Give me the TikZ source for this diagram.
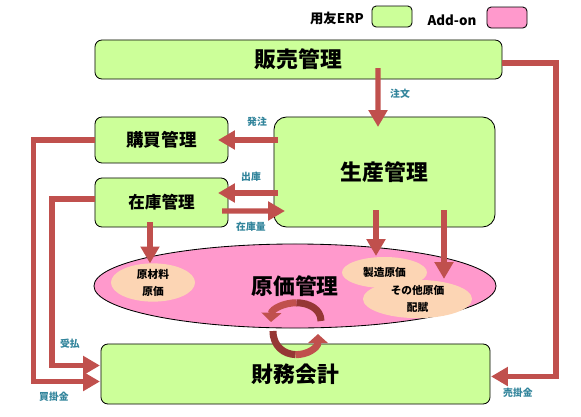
\documentclass[tikz,border=0pt]{standalone}
\usepackage{fontspec}
\setmainfont{Noto Sans CJK JP}
\usepackage{xcolor}
\usetikzlibrary{arrows.meta,shapes.geometric}
\definecolor{erpgreen}{HTML}{CCFF99}
\definecolor{addonpink}{HTML}{FF99CC}
\definecolor{costpeach}{HTML}{FCD5B4}
\definecolor{linkred}{HTML}{C0504D}
\definecolor{linkdark}{HTML}{953735}
\definecolor{labelteal}{HTML}{31849B}
\tikzset{
  gmbox/.style={draw=black, line width=0.6pt, fill=erpgreen, rounded corners=5pt, inner sep=0pt, outer sep=0pt},
  gmtitle/.style={font=\fontsize{15.5}{18}\selectfont\bfseries},
  gmsub/.style={font=\fontsize{12.5}{15}\selectfont\bfseries},
  gmbig/.style={ellipse, draw=black, line width=0.6pt, fill=addonpink, inner sep=0pt, outer sep=0pt},
  gmcost/.style={ellipse, fill=costpeach, inner sep=0pt, outer sep=0pt, align=center, font=\fontsize{7.6}{12}\selectfont\bfseries},
  gmconn/.style={line width=3.8pt, draw=linkred, line join=miter, -{Triangle[width=13pt,length=12pt]}},
  gmlink/.style={line width=3.8pt, draw=linkred, line join=miter},
  gmlabel/.style={text=labelteal, inner sep=0pt, font=\fontsize{7}{8}\selectfont\bfseries},
  gmlegend/.style={inner sep=0pt, font=\fontsize{9.5}{11}\selectfont\bfseries},
  gmswatch/.style={draw=black, line width=0.6pt, rounded corners=3pt, minimum width=1cm, minimum height=0.525cm, inner sep=0pt},
  gmcycle/.style={line width=5pt, line cap=butt},
}

\begin{document}
\begin{tikzpicture}[x=0.025cm, y=-0.025cm]
\useasboundingbox (0,0) rectangle (581,416);
\node[gmlegend] (lgerp) at (337,18) {用友ERP};
\node[gmswatch, fill=erpgreen] (lgerpbox) at (392,16.5) {};
\node[gmlegend] (lgaddon) at (452,20) {Add-on};
\node[gmswatch, fill=addonpink] (lgaddonbox) at (507,17.5) {};
\node[gmbox, gmtitle, minimum width=10.175cm, minimum height=0.975cm] (hanbai) at (298.5,59.5) {販売管理};
\node[gmbox, gmsub, minimum width=3.325cm, minimum height=1.15cm] (kobai) at (161.5,140) {購買管理};
\node[gmbox, font=\fontsize{11.8}{14}\selectfont\bfseries, minimum width=3.325cm, minimum height=1.225cm] (zaiko) at (161.5,202.5) {在庫管理};
\node[gmbox, gmtitle, rounded corners=9pt, minimum width=5.525cm, minimum height=2.75cm] (seisan) at (384.5,172) {生産管理};
\node[gmbig, gmtitle, minimum width=10.05cm, minimum height=2.1cm] (genka) at (295,286) {原価管理};
\node[gmcost, minimum width=2.1cm, minimum height=0.875cm] (genzai) at (153,282.5) {原材料\\原価};
\node[gmcost, minimum width=2.125cm, minimum height=0.775cm] (seizo) at (384.5,272.5) {製造原価};
\node[gmcost, minimum width=2.725cm, minimum height=0.8cm] (sonota) at (417.5,299) {その他原価\\配賦};
\node[gmbox, gmtitle, minimum width=9.725cm, minimum height=1.5cm] (zaimu) at (295.5,374) {財務会計};
\draw[gmconn] ([shift={(79.5,-11)}]hanbai.south) -- ([shift={(-6.5,10)}]seisan.north);
\draw[gmconn] ([shift={(4,-32)}]seisan.west) -- ([shift={(-10,0)}]kobai.east);
\draw[gmconn] ([shift={(4,21)}]seisan.west) -- ([shift={(-10,-9.5)}]zaiko.east);
\draw[gmconn] ([shift={(-6,8.5)}]zaiko.east) -- ([shift={(11,39)}]seisan.west);
\draw[gmconn] ([shift={(-11.5,-5)}]zaiko.south) -- ([shift={(-3,0)}]genzai.north);
\draw[gmconn] ([shift={(-8.5,-17)}]seisan.south) -- ([shift={(-8.5,-1)}]seizo.north);
\draw[gmconn] ([shift={(59.5,-17)}]seisan.south) -- ([shift={(26.5,-1)}]sonota.north);
\draw[gmconn] (kobai.west) -- ++(-61.5,0) |- ([shift={(-1,7.5)}]zaimu.west);
\draw[gmconn] ([shift={(0,-3.5)}]zaiko.west) -- ++(-43,0) |- ([shift={(-1,-8.5)}]zaimu.west);
\draw[gmconn] ([shift={(0,3.5)}]hanbai.east) -- ++(54,0) |- ([shift={(1,2.5)}]zaimu.east);
\node[gmlabel] (lchumon) at (400,94) {注文};
\node[gmlabel] (lhatchu) at (257,122) {発注};
\node[gmlabel] (lshukko) at (251,177) {出庫};
\node[gmlabel] (lzaikoryo) at (251,227) {在庫量};
\node[gmlabel] (lukeharai) at (70,344) {受払};
\node[gmlabel] (lkaikake) at (54,397) {買掛金};
\node[gmlabel] (lurikake) at (518,393) {売掛金};
\draw[gmcycle, draw=linkdark] (321,321) .. controls (321,309) and (308.75,302.75) .. (296.375,302.75);
\draw[gmcycle, draw=linkred, -{Triangle[width=14pt,length=6.5pt]}] (296.375,302.75) .. controls (284,302.75) and (271.5,309) .. (271,322);
\draw[gmcycle, draw=linkdark] (273,331) .. controls (273,346.5) and (284.25,354.25) .. (295.5,354.625);
\draw[gmcycle, draw=linkred, -{Triangle[width=14pt,length=6.5pt]}] (295.5,354.625) .. controls (306.75,355) and (318,348) .. (318,334);
\end{tikzpicture}
\end{document}
